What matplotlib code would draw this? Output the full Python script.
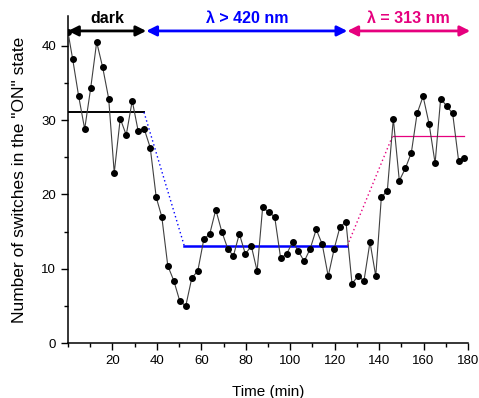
import matplotlib
matplotlib.use('Agg')
import matplotlib.pyplot as plt
from matplotlib.ticker import MultipleLocator

plt.rcParams['font.family'] = ['Liberation Sans', 'DejaVu Sans']

# Measured switching counts vs. time
time_min = [0.0, 2.1, 4.8, 7.5, 10.2, 12.9, 15.6, 18.3, 20.8, 23.5,
            26.2, 28.9, 31.6, 34.3, 37.0, 39.7, 42.2, 44.9, 47.6, 50.3,
            53.0, 55.7, 58.4, 61.1, 63.8, 66.5, 69.2, 71.9, 74.4, 77.1,
            79.8, 82.5, 85.1, 87.6, 90.3, 93.0, 95.7, 98.4, 101.1, 103.6,
            106.3, 109.0, 111.7, 114.4, 117.1, 119.8, 122.4, 125.1, 127.8, 130.5,
            133.2, 135.9, 138.5, 141.0, 143.7, 146.4, 149.1, 151.8, 154.5, 157.1,
            159.8, 162.5, 165.2, 167.7, 170.4, 173.1, 175.8, 178.3]
switches = [41.8, 38.2, 33.2, 28.8, 34.3, 40.5, 37.1, 32.9, 22.9, 30.2,
            28.0, 32.6, 28.5, 28.8, 26.3, 19.6, 17.0, 10.4, 8.4, 5.65,
            5.0, 8.75, 9.7, 13.95, 14.7, 17.95, 15.0, 12.7, 11.7, 14.7,
            12.0, 13.05, 9.7, 18.3, 17.6, 17.0, 11.4, 12.0, 13.6, 12.4,
            11.0, 12.7, 15.3, 13.3, 9.0, 12.7, 15.65, 16.3, 8.0, 9.0,
            8.4, 13.6, 9.0, 19.6, 20.5, 30.2, 21.85, 23.5, 25.6, 30.9,
            33.2, 29.5, 24.2, 32.9, 31.9, 30.9, 24.5, 24.9]

# Average levels for each illumination period
dark_x = [0, 34.2]
dark_y = [31.05, 31.05]
vis_x = [52.3, 125.7]
vis_y = [13.1, 13.1]
uv_x = [146.1, 178.3]
uv_y = [27.9, 27.9]

# Period arrows (start, end), labels and colours
periods = [(0, 35.2), (35.2, 125.7), (125.7, 181)]
period_labels = ['dark', 'λ > 420 nm', 'λ = 313 nm']
period_colors = ['black', '#0000ff', '#e6007e']

fig = plt.figure(figsize=(4.79, 3.98), dpi=100)
ax = fig.add_axes([0.142, 0.138, 0.835, 0.8216])

ax.plot(time_min, switches, color='#404040', lw=0.8, marker='o',
        markersize=4, markerfacecolor='black', markeredgecolor='black', zorder=3)

ax.plot(dark_x, dark_y, color='black', lw=1.4, zorder=2)
ax.plot([dark_x[1], vis_x[0]], [dark_y[1], vis_y[0]], color='#0000ff', lw=1.0, ls=(0, (1, 2)), zorder=2)
ax.plot(vis_x, vis_y, color='#0000ff', lw=1.8, zorder=2)
ax.plot([vis_x[1], uv_x[0]], [vis_y[1], uv_y[0]], color='#e6007e', lw=1.0, ls=(0, (1, 2)), zorder=2)
ax.plot(uv_x, uv_y, color='#e6007e', lw=0.9, zorder=2)

for (x0, x1), lab, c in zip(periods, period_labels, period_colors):
    ax.annotate('', xy=(x1, 42), xytext=(x0, 42), xycoords='data',
                arrowprops=dict(arrowstyle='<|-|>,head_length=0.6,head_width=0.3',
                                color=c, lw=2, shrinkA=0, shrinkB=0),
                annotation_clip=False, zorder=4)
    ax.text((x0 + x1) / 2, 42.6, lab, color=c, fontsize=11.5, fontweight='bold',
            ha='center', va='bottom', clip_on=False)

ax.set_xlim(0, 180)
ax.set_ylim(0, 44)
ax.xaxis.set_major_locator(MultipleLocator(20))
ax.xaxis.set_minor_locator(MultipleLocator(10))
ax.yaxis.set_major_locator(MultipleLocator(10))
ax.yaxis.set_minor_locator(MultipleLocator(5))
ax.set_xticks(range(20, 181, 20))
ax.tick_params(which='major', direction='out', length=5, width=1, labelsize=9.5)
ax.tick_params(which='minor', direction='out', length=3, width=1)

for side in ['top', 'right']:
    ax.spines[side].set_visible(False)
ax.spines['left'].set_linewidth(1.1)
ax.spines['bottom'].set_linewidth(1.1)

ax.set_xlabel('Time (min)', fontsize=11, labelpad=13)
ax.set_ylabel('Number of switches in the "ON" state', fontsize=12.5, labelpad=10)

fig.savefig('out.png', dpi=100)
